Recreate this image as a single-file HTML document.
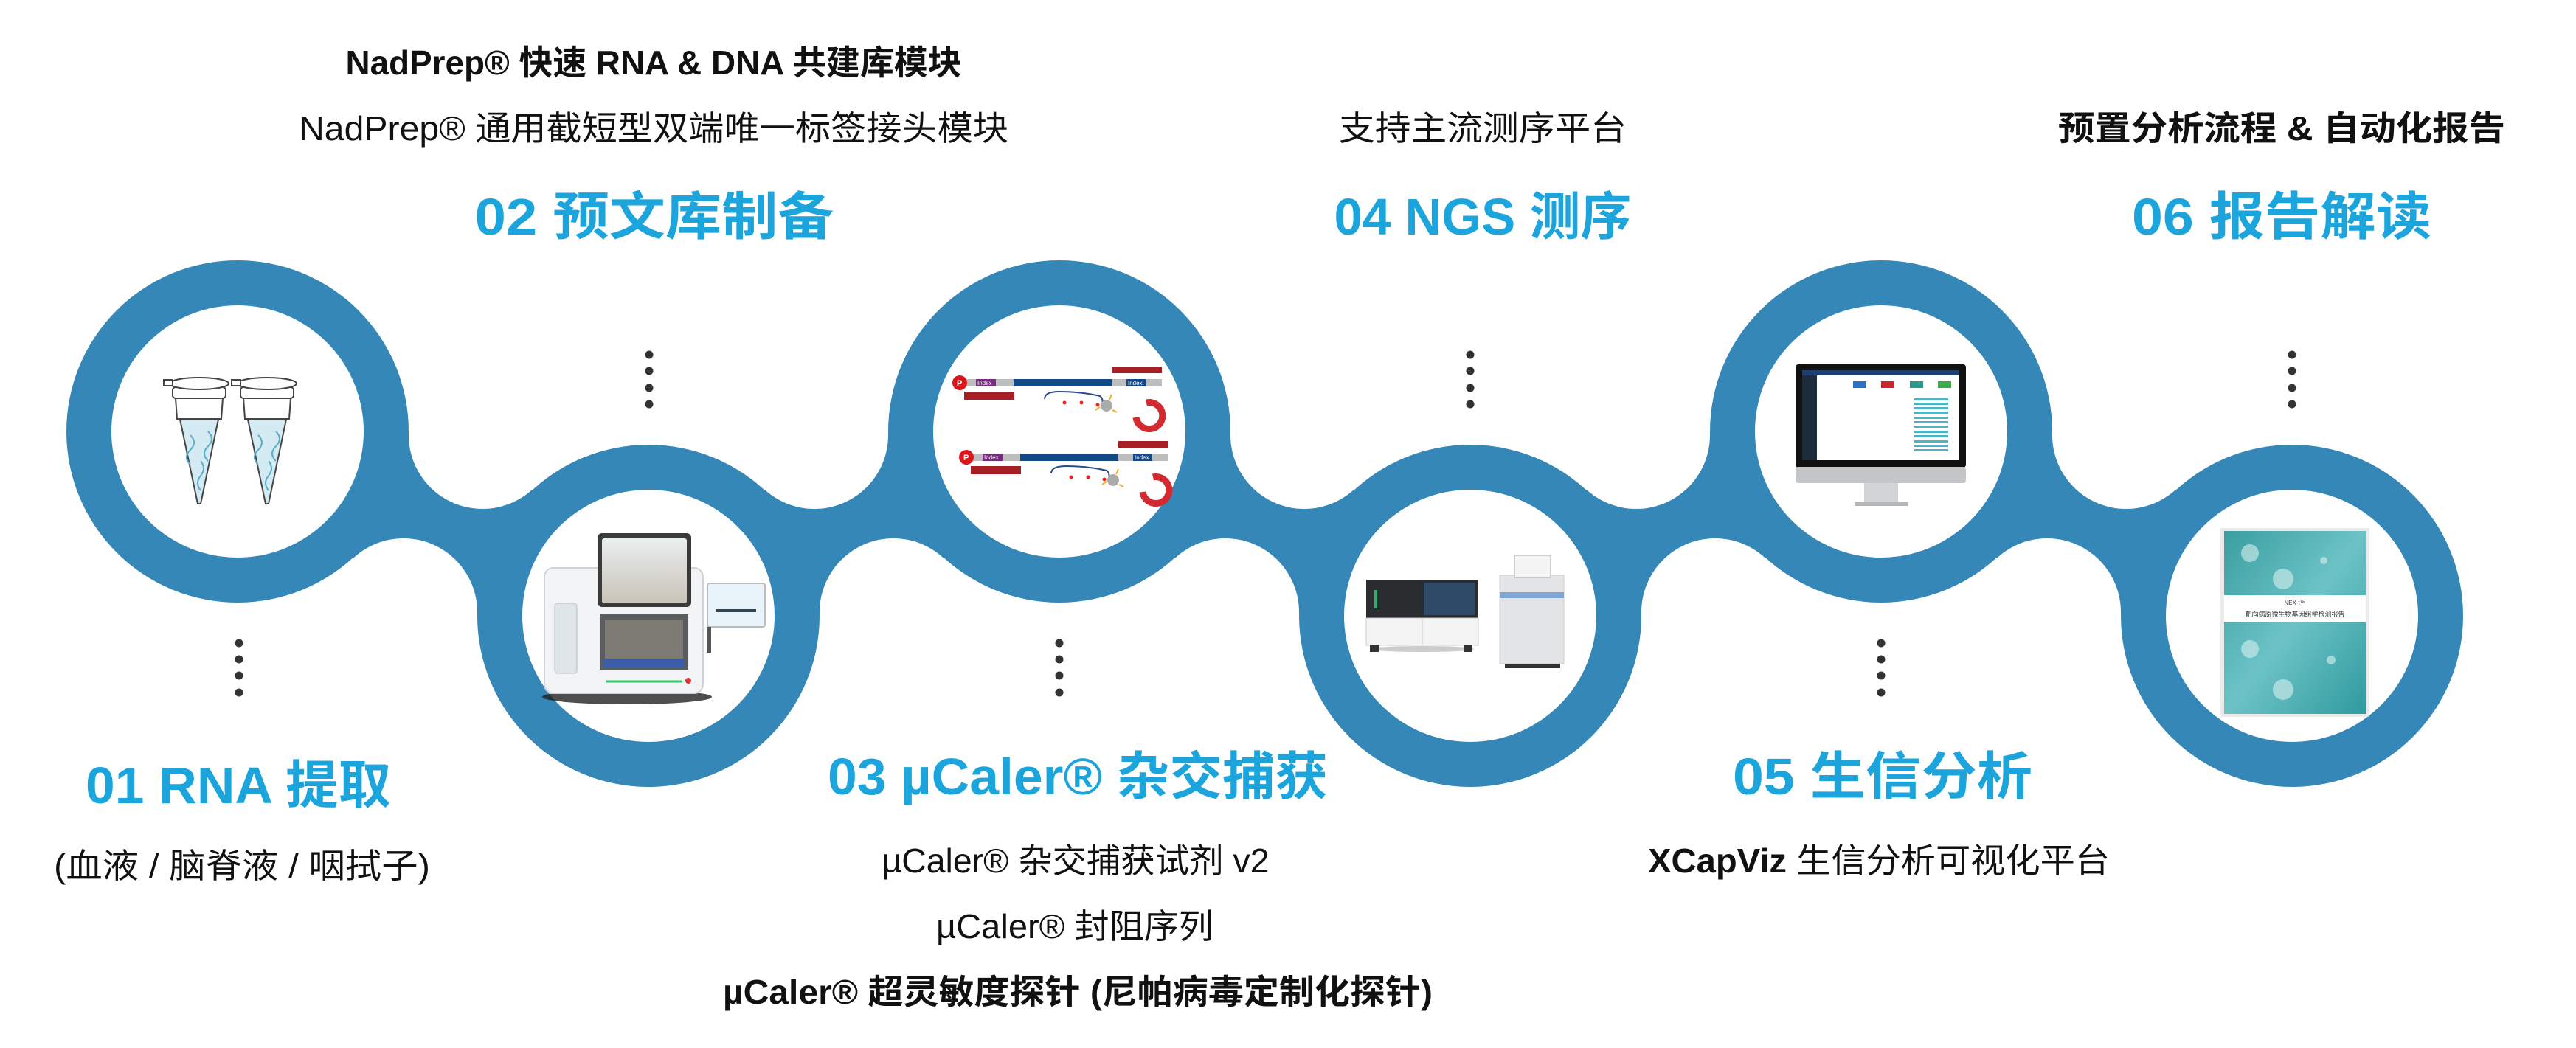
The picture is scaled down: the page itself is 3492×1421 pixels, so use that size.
<!DOCTYPE html>
<html><head><meta charset="utf-8"><style>
html,body{margin:0;padding:0;background:#fff;}
svg{display:block;}
text{font-family:"Liberation Sans","Noto Sans CJK SC",sans-serif;}
</style></head><body>
<svg width="3492" height="1421" viewBox="0 0 3492 1421" xmlns="http://www.w3.org/2000/svg">
<defs>
<linearGradient id="teal" x1="0" y1="0" x2="1" y2="1">
<stop offset="0" stop-color="#3a9ea0"/><stop offset="0.5" stop-color="#6cc3c6"/><stop offset="1" stop-color="#2f9a9e"/>
</linearGradient>
<linearGradient id="scr" x1="0" y1="0" x2="0" y2="1"><stop offset="0" stop-color="#e9eef0"/><stop offset="1" stop-color="#c9c3b8"/></linearGradient>
</defs>
<!-- necks -->
<g fill="#3587b8">
<polygon points="322,585 654,590 879,835 547,830"/>
<polygon points="879,835 1104,590 1436,585 1211,830"/>
<polygon points="1436,585 1768,590 1993,835 1661,830"/>
<polygon points="1993,835 2218,590 2550,585 2325,830"/>
<polygon points="2550,585 2882,590 3107,835 2775,830"/>
</g>
<g fill="#fff">
<circle cx="654" cy="590" r="100"/><circle cx="547" cy="830" r="100"/>
<circle cx="1104" cy="590" r="100"/><circle cx="1211" cy="830" r="100"/>
<circle cx="1768" cy="590" r="100"/><circle cx="1661" cy="830" r="100"/>
<circle cx="2218" cy="590" r="100"/><circle cx="2325" cy="830" r="100"/>
<circle cx="2882" cy="590" r="100"/><circle cx="2775" cy="830" r="100"/>
</g>
<g fill="#3587b8">
<circle cx="322" cy="585" r="232"/><circle cx="879" cy="835" r="232"/>
<circle cx="1436" cy="585" r="232"/><circle cx="1993" cy="835" r="232"/>
<circle cx="2550" cy="585" r="232"/><circle cx="3107" cy="835" r="232"/>
</g>
<g fill="#fff">
<circle cx="322" cy="585" r="171"/><circle cx="879" cy="835" r="171"/>
<circle cx="1436" cy="585" r="171"/><circle cx="1993" cy="835" r="171"/>
<circle cx="2550" cy="585" r="171"/><circle cx="3107" cy="835" r="171"/>
</g>
<!-- dots -->
<g fill="#333">
<circle cx="880" cy="481" r="5.5"/><circle cx="880" cy="503" r="5.5"/><circle cx="880" cy="526" r="5.5"/><circle cx="880" cy="548" r="5.5"/>
<circle cx="1993" cy="481" r="5.5"/><circle cx="1993" cy="503" r="5.5"/><circle cx="1993" cy="526" r="5.5"/><circle cx="1993" cy="548" r="5.5"/>
<circle cx="3107" cy="481" r="5.5"/><circle cx="3107" cy="503" r="5.5"/><circle cx="3107" cy="526" r="5.5"/><circle cx="3107" cy="548" r="5.5"/>
<circle cx="324" cy="872" r="5.5"/><circle cx="324" cy="894" r="5.5"/><circle cx="324" cy="916" r="5.5"/><circle cx="324" cy="939" r="5.5"/>
<circle cx="1436" cy="872" r="5.5"/><circle cx="1436" cy="894" r="5.5"/><circle cx="1436" cy="916" r="5.5"/><circle cx="1436" cy="939" r="5.5"/>
<circle cx="2550" cy="872" r="5.5"/><circle cx="2550" cy="894" r="5.5"/><circle cx="2550" cy="916" r="5.5"/><circle cx="2550" cy="939" r="5.5"/>
</g>
<!-- tubes -->
<g stroke="#444" stroke-width="2" fill="#fff">
<g>
<path d="M238,540 L302,540 L272,683 L268,683 Z" fill="#d4ebf3"/>
<path d="M238,540 L302,540 L300,568 L240,568 Z" fill="#fff"/>
<rect x="234" y="525" width="72" height="15" rx="4"/>
<ellipse cx="270" cy="520" rx="40" ry="8"/>
<rect x="222" y="515" width="12" height="8"/>
</g>
<g transform="translate(92,0)">
<path d="M238,540 L302,540 L272,683 L268,683 Z" fill="#d4ebf3"/>
<path d="M238,540 L302,540 L300,568 L240,568 Z" fill="#fff"/>
<rect x="234" y="525" width="72" height="15" rx="4"/>
<ellipse cx="270" cy="520" rx="40" ry="8"/>
<rect x="222" y="515" width="12" height="8"/>
</g>
</g>
<g stroke="#5aaecc" stroke-width="2" fill="none">
<path d="M258,590 q10,10 0,20 q-10,10 0,20"/><path d="M282,585 q10,10 0,20 q-10,10 0,20"/><path d="M272,625 q8,10 0,20 q-8,10 0,20"/>
<path d="M350,590 q10,10 0,20 q-10,10 0,20"/><path d="M374,585 q10,10 0,20 q-10,10 0,20"/><path d="M364,625 q8,10 0,20 q-8,10 0,20"/>
</g>
<!-- instrument c2 -->
<ellipse cx="850" cy="945" rx="115" ry="10" fill="#222" opacity="0.8"/>
<rect x="738" y="770" width="215" height="170" rx="12" fill="#f2f3f4" stroke="#cfd3d6" stroke-width="2"/>
<rect x="752" y="818" width="30" height="95" rx="4" fill="#dfe6ea" stroke="#bbb"/>
<rect x="810" y="723" width="127" height="100" rx="6" fill="#3a3a3a"/>
<rect x="816" y="730" width="115" height="88" rx="3" fill="url(#scr)"/>
<rect x="813" y="833" width="120" height="75" fill="#5b5d60"/>
<rect x="820" y="840" width="106" height="55" fill="#7d7a74"/>
<rect x="818" y="893" width="110" height="12" fill="#3c5ea8"/>
<line x1="822" y1="924" x2="925" y2="924" stroke="#3bc36a" stroke-width="3"/>
<circle cx="933" cy="923" r="4" fill="#d33"/>
<rect x="959" y="791" width="78" height="59" rx="3" fill="#e9f3fa" stroke="#bbb" stroke-width="2"/>
<rect x="970" y="826" width="55" height="4" fill="#345"/>
<rect x="958" y="850" width="6" height="35" fill="#555"/>
<!-- c3 oligos -->
<g id="olig">
<rect x="1307" y="497" width="0" height="0"/>
<rect x="1507" y="497" width="68" height="9" fill="#a51f24"/>
<rect x="1310" y="514" width="265" height="10" fill="#bdbdbd"/>
<rect x="1323" y="514" width="27" height="10" fill="#7b2a82"/>
<rect x="1374" y="514" width="133" height="10" fill="#124a89"/>
<rect x="1527" y="514" width="26" height="10" fill="#124a89"/>
<text x="1325" y="522" font-size="8" fill="#fff">Index</text>
<text x="1529" y="522" font-size="8" fill="#fff">Index</text>
<circle cx="1301" cy="519" r="10" fill="#d9161c"/>
<text x="1297" y="523" font-size="11" font-weight="bold" fill="#fff">P</text>
<rect x="1307" y="531" width="68" height="11" fill="#a51f24"/>
<path d="M1416,541 q0,-10 20,-10 q30,0 55,6 q5,3 3,12" fill="none" stroke="#2a4a8a" stroke-width="2"/>
<circle cx="1443" cy="546" r="2.5" fill="#e22"/><circle cx="1466" cy="546" r="2.5" fill="#e22"/><circle cx="1488" cy="549" r="2.5" fill="#e22"/>
<circle cx="1500" cy="550" r="8" fill="#aaa"/>
<path d="M1491,552 l-6,4 M1508,556 l6,3 M1504,542 l3,-7" stroke="#f0b020" stroke-width="2"/>
<path d="M1545,547 a16,16 0 1,0 0,0.1" fill="none"/>
<path d="M1554,546 a18,18 0 1,1 -14,20" fill="none" stroke="#d22a2e" stroke-width="9"/>
</g>
<use href="#olig" transform="translate(9,101)"/>
<!-- c4 sequencers -->
<ellipse cx="1928" cy="880" rx="70" ry="4" fill="#ccc"/>
<rect x="1852" y="786" width="152" height="52" fill="#2a2c2f"/>
<rect x="1930" y="790" width="70" height="44" fill="#2d4a66"/>
<rect x="1852" y="838" width="152" height="37" fill="#f4f4f4" stroke="#ccc"/>
<line x1="1928" y1="838" x2="1928" y2="875" stroke="#ccc"/>
<rect x="1863" y="800" width="4" height="25" fill="#2fae6a"/>
<rect x="1857" y="874" width="12" height="10" fill="#333"/><rect x="1984" y="874" width="12" height="10" fill="#333"/>
<rect x="2033" y="780" width="87" height="120" fill="#e3e4e6" stroke="#ccc"/>
<rect x="2033" y="803" width="87" height="8" fill="#7ea6d6"/>
<rect x="2053" y="753" width="49" height="30" fill="#f4f4f4" stroke="#aaa"/>
<rect x="2040" y="900" width="75" height="6" fill="#333"/>
<!-- c5 monitor -->
<rect x="2434" y="494" width="231" height="140" rx="4" fill="#111"/>
<rect x="2443" y="502" width="213" height="122" fill="#fff"/>
<rect x="2443" y="502" width="213" height="7" fill="#1d3e6e"/>
<rect x="2443" y="509" width="20" height="115" fill="#1c2c3a"/>
<rect x="2512" y="517" width="18" height="9" fill="#2a73c8"/>
<rect x="2550" y="517" width="18" height="9" fill="#c8262b"/>
<rect x="2589" y="517" width="18" height="9" fill="#2a9a8e"/>
<rect x="2627" y="517" width="18" height="9" fill="#39ae4a"/>
<g fill="#4fb3c8">
<rect x="2595" y="540" width="46" height="3"/><rect x="2595" y="546" width="46" height="3"/><rect x="2595" y="552" width="46" height="3"/><rect x="2595" y="558" width="46" height="3"/><rect x="2595" y="565" width="46" height="3"/><rect x="2595" y="571" width="46" height="3"/><rect x="2595" y="577" width="46" height="3"/><rect x="2595" y="584" width="46" height="3"/><rect x="2595" y="590" width="46" height="3"/><rect x="2595" y="597" width="46" height="3"/><rect x="2595" y="603" width="46" height="3"/><rect x="2595" y="609" width="46" height="3"/>
</g>
<rect x="2434" y="633" width="231" height="22" rx="4" fill="#c4c5c7"/>
<rect x="2527" y="655" width="46" height="27" fill="#d3d4d6"/>
<rect x="2514" y="680" width="72" height="6" fill="#b5b6b8"/>
<!-- c6 report -->
<rect x="3010" y="716" width="202" height="256" fill="#ddd" opacity="0.6"/>
<rect x="3015" y="720" width="192" height="248" fill="url(#teal)"/>
<rect x="3015" y="807" width="192" height="36" fill="#fff"/>
<text x="3111" y="820" font-size="8" text-anchor="middle" fill="#333">NEX-t™</text>
<text x="3111" y="836" font-size="9" text-anchor="middle" fill="#333">靶向病原微生物基因组学检测报告</text>
<g fill="#d8f0f0" opacity="0.6"><circle cx="3050" cy="750" r="12"/><circle cx="3095" cy="785" r="14"/><circle cx="3150" cy="760" r="5"/><circle cx="3050" cy="880" r="12"/><circle cx="3095" cy="935" r="14"/><circle cx="3160" cy="895" r="6"/></g>
<!-- texts -->
<g fill="#1ca4dd" font-weight="bold" font-size="70" text-anchor="middle">
<text x="887" y="318" textLength="487" lengthAdjust="spacingAndGlyphs">02 预文库制备</text>
<text x="2010" y="318" textLength="403" lengthAdjust="spacingAndGlyphs">04 NGS 测序</text>
<text x="3093" y="318" textLength="406" lengthAdjust="spacingAndGlyphs">06 报告解读</text>
<text x="323" y="1089" textLength="414" lengthAdjust="spacingAndGlyphs">01 RNA 提取</text>
<text x="1461" y="1077" textLength="678" lengthAdjust="spacingAndGlyphs">03 µCaler® 杂交捕获</text>
<text x="2552" y="1077" textLength="406" lengthAdjust="spacingAndGlyphs">05 生信分析</text>
</g>
<g fill="#111" font-size="46" text-anchor="middle">
<text x="886" y="101" font-weight="bold" textLength="835" lengthAdjust="spacingAndGlyphs">NadPrep® 快速 RNA &amp; DNA 共建库模块</text>
<text x="886" y="190" textLength="962" lengthAdjust="spacingAndGlyphs">NadPrep® 通用截短型双端唯一标签接头模块</text>
<text x="2010" y="190" textLength="390" lengthAdjust="spacingAndGlyphs">支持主流测序平台</text>
<text x="3093" y="190" font-weight="bold" textLength="606" lengthAdjust="spacingAndGlyphs">预置分析流程 &amp; 自动化报告</text>
<text x="328" y="1190" textLength="510" lengthAdjust="spacingAndGlyphs">(血液 / 脑脊液 / 咽拭子)</text>
<text x="1458" y="1183" textLength="525" lengthAdjust="spacingAndGlyphs">µCaler® 杂交捕获试剂 v2</text>
<text x="1457" y="1272" textLength="376" lengthAdjust="spacingAndGlyphs">µCaler® 封阻序列</text>
<text x="1461" y="1361" font-weight="bold" textLength="962" lengthAdjust="spacingAndGlyphs">µCaler® 超灵敏度探针 (尼帕病毒定制化探针)</text>
<text x="2547" y="1183" textLength="626" lengthAdjust="spacingAndGlyphs"><tspan font-weight="bold">XCapViz</tspan> 生信分析可视化平台</text>
</g>
</svg>
</body></html>
